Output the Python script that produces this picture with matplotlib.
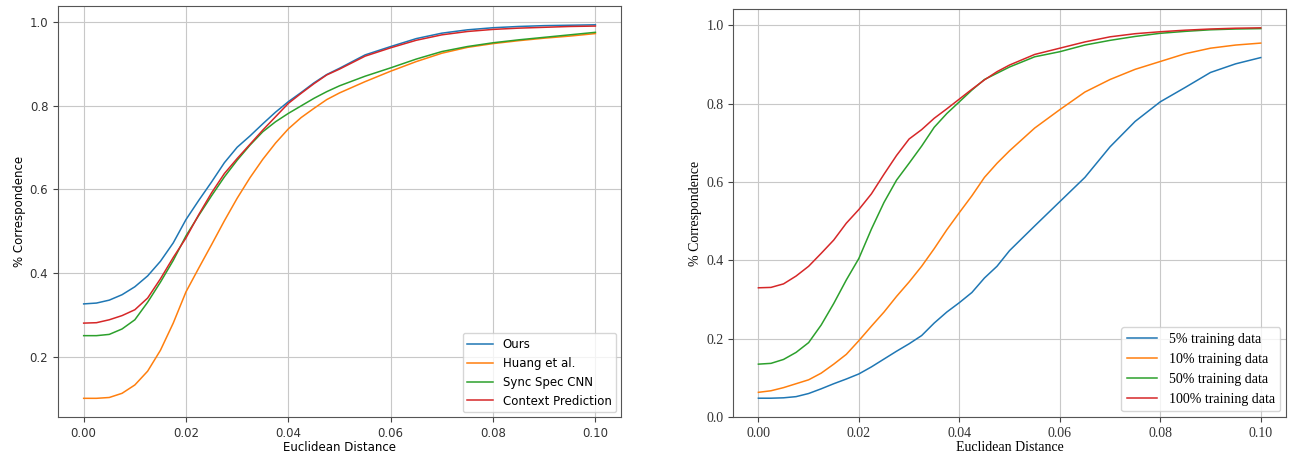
import numpy as np
import matplotlib
matplotlib.use("Agg")
import matplotlib.pyplot as plt

# ── data ───────────────────────────────────────────────────────────────────
dist = [0.0000, 0.0025, 0.0050, 0.0075, 0.0100, 0.0125, 0.0150, 0.0175, 0.0200,
        0.0225, 0.0250, 0.0275, 0.0300, 0.0325, 0.0350, 0.0375, 0.0400, 0.0425,
        0.0450, 0.0475, 0.0500, 0.0550, 0.0600, 0.0650, 0.0700, 0.0750, 0.0800,
        0.0850, 0.0900, 0.0950, 0.1000]

# left panel: method comparison
ours      = [0.326, 0.328, 0.335, 0.348, 0.367, 0.393, 0.428, 0.472, 0.528,
             0.574, 0.618, 0.664, 0.701, 0.728, 0.757, 0.785, 0.810, 0.832,
             0.855, 0.875, 0.890, 0.922, 0.942, 0.961, 0.974, 0.982, 0.987,
             0.990, 0.992, 0.993, 0.994]
huang     = [0.100, 0.100, 0.102, 0.112, 0.132, 0.165, 0.215, 0.280, 0.355,
             0.412, 0.468, 0.525, 0.579, 0.628, 0.672, 0.711, 0.745, 0.772,
             0.794, 0.815, 0.831, 0.858, 0.883, 0.906, 0.926, 0.940, 0.949,
             0.956, 0.962, 0.967, 0.973]
sync_spec = [0.250, 0.250, 0.253, 0.266, 0.288, 0.330, 0.378, 0.430, 0.489,
             0.538, 0.585, 0.630, 0.670, 0.706, 0.738, 0.762, 0.782, 0.800,
             0.818, 0.834, 0.848, 0.871, 0.891, 0.912, 0.930, 0.942, 0.951,
             0.958, 0.964, 0.970, 0.976]
context   = [0.280, 0.281, 0.288, 0.298, 0.312, 0.340, 0.386, 0.437, 0.484,
             0.540, 0.592, 0.638, 0.674, 0.708, 0.742, 0.774, 0.806, 0.830,
             0.853, 0.874, 0.888, 0.919, 0.939, 0.957, 0.970, 0.978, 0.983,
             0.986, 0.988, 0.990, 0.991]

# right panel: amount of training data
pct5   = [0.048, 0.048, 0.049, 0.052, 0.060, 0.072, 0.085, 0.097, 0.110,
          0.128, 0.148, 0.168, 0.187, 0.208, 0.240, 0.268, 0.292, 0.318,
          0.355, 0.385, 0.425, 0.488, 0.550, 0.612, 0.690, 0.755, 0.805,
          0.842, 0.880, 0.902, 0.918]
pct10  = [0.063, 0.067, 0.075, 0.085, 0.095, 0.112, 0.135, 0.160, 0.195,
          0.232, 0.268, 0.308, 0.345, 0.385, 0.430, 0.478, 0.522, 0.565,
          0.612, 0.648, 0.680, 0.738, 0.785, 0.830, 0.862, 0.888, 0.908,
          0.928, 0.942, 0.950, 0.955]
pct50  = [0.135, 0.137, 0.147, 0.165, 0.190, 0.235, 0.290, 0.350, 0.405,
          0.480, 0.548, 0.605, 0.648, 0.692, 0.740, 0.775, 0.805, 0.835,
          0.862, 0.878, 0.894, 0.920, 0.933, 0.950, 0.962, 0.972, 0.980,
          0.985, 0.989, 0.991, 0.992]
pct100 = [0.330, 0.331, 0.340, 0.360, 0.385, 0.418, 0.452, 0.495, 0.530,
          0.570, 0.620, 0.668, 0.710, 0.734, 0.763, 0.787, 0.812, 0.837,
          0.861, 0.882, 0.899, 0.926, 0.942, 0.958, 0.971, 0.979, 0.984,
          0.988, 0.991, 0.993, 0.994]

left_series  = [("Ours", ours), ("Huang et al.", huang),
                ("Sync Spec CNN", sync_spec), ("Context Prediction", context)]
right_series = [("5% training data", pct5), ("10% training data", pct10),
                ("50% training data", pct50), ("100% training data", pct100)]
xticks = [0.00, 0.02, 0.04, 0.06, 0.08, 0.10]

# ── figure ──────────────────────────────────────────────────────────────────
fig = plt.figure(figsize=(12.91, 4.54), dpi=100)
ax1 = fig.add_axes([0.045, 0.0815, 0.436, 0.905])
ax2 = fig.add_axes([0.568, 0.0815, 0.428, 0.898])

colors = ["#1f77b4", "#ff7f0e", "#2ca02c", "#d62728"]

def draw(ax, series, family, fs, yticks):
    for (lbl, ys), c in zip(series, colors):
        ax.plot(dist, ys, color=c, lw=1.1, label=lbl)
    ax.set_xticks(xticks)
    ax.set_xticklabels([f"{t:.2f}" for t in xticks], family=family, fontsize=fs)
    ax.set_yticks(yticks)
    ax.set_yticklabels([f"{t:.1f}" for t in yticks], family=family, fontsize=fs)
    ax.set_xlabel("Euclidean Distance", family=family, fontsize=fs, labelpad=1)
    ax.set_ylabel("% Correspondence", family=family, fontsize=fs, labelpad=3)
    ax.grid(True, color="#c8c8c8", lw=0.8)
    ax.tick_params(colors="#444444", labelcolor="#333333")
    for s in ax.spines.values():
        s.set_color("#555555")
    ax.legend(loc="lower right", prop={"family": family, "size": fs},
              handlelength=2.2, borderaxespad=0.4)

draw(ax1, left_series, "DejaVu Sans", 8.5, [0.2, 0.4, 0.6, 0.8, 1.0])
draw(ax2, right_series, "Liberation Serif", 10, [0.0, 0.2, 0.4, 0.6, 0.8, 1.0])

fig.savefig("out.png", dpi=100)
